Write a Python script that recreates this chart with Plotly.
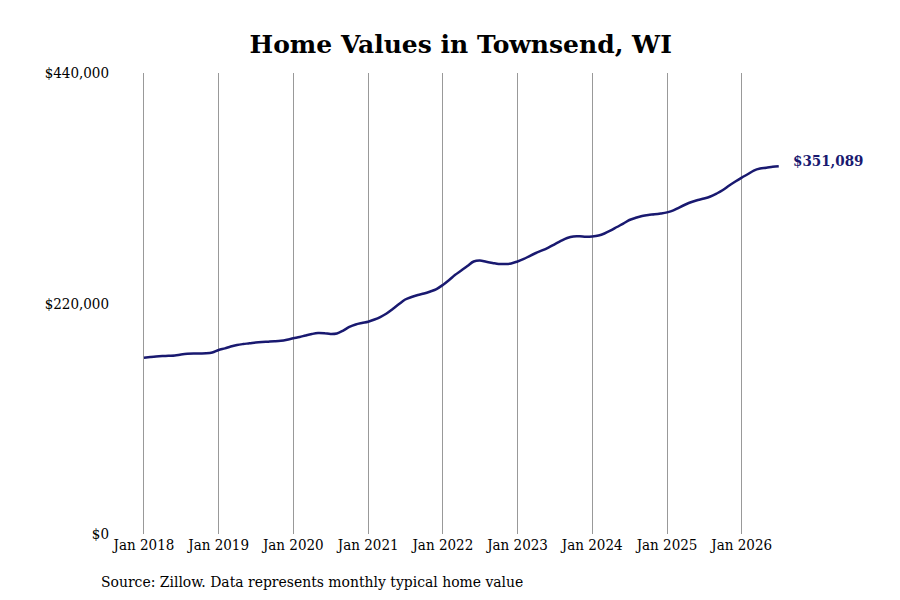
import pandas as pd
import plotly.graph_objects as go

# monthly typical home value, Jan 2018 - Jul 2026
months = pd.date_range("2018-01-01", "2026-07-01", freq="MS")

values = [
    # 2018
    168300, 168900, 169400, 169800, 170100, 170400, 171300, 172000, 172300, 172300, 172400, 173200,
    # 2019
    175600, 177200, 179000, 180400, 181300, 182000, 182800, 183300, 183600, 183900, 184400, 185400,
    # 2020
    186800, 188000, 189500, 190900, 191800, 191600, 190900, 191400, 194200, 197600, 200000, 201400,
    # 2021
    202600, 204700, 207100, 210500, 214800, 219500, 223800, 226200, 228100, 229500, 231500, 233800,
    # 2022
    237700, 242400, 247200, 251500, 255800, 260100, 261000, 259800, 258700, 257700, 257700, 258200,
    # 2023
    260100, 262500, 265300, 268200, 270600, 273400, 276500, 279700, 282500, 284000, 284100, 283700,
    # 2024
    284000, 284900, 286800, 289700, 293000, 296300, 299700, 301800, 303500, 304500, 305100, 305900,
    # 2025
    307000, 308800, 311600, 314500, 316900, 318800, 320200, 322100, 325000, 328300, 332600, 336400,
    # 2026
    340100, 343600, 346900, 348800, 349500, 350500, 351089,
]

tick_dates = pd.date_range("2018-01-01", "2026-01-01", freq="YS")
tick_labels = [d.strftime("Jan %Y") for d in tick_dates]
y_ticks = [0, 220000, 440000]
y_labels = ["$0", "$220,000", "$440,000"]

navy = "#191970"
serif = "DejaVu Serif Condensed, DejaVu Serif, serif"

fig = go.Figure()
fig.add_trace(go.Scatter(
    x=months, y=values, mode="lines",
    line=dict(color=navy, width=2.5, shape="spline"),
    hoverinfo="skip", showlegend=False,
))

# end-of-line value label
fig.add_annotation(
    x=months[-1], y=values[-1], text=f"<b>${values[-1]:,}</b>",
    showarrow=False, xanchor="left", xshift=12, yshift=5,
    font=dict(family=serif, size=15, color=navy),
)

# source note
fig.add_annotation(
    xref="paper", yref="paper", x=-0.016, y=-0.104,
    xanchor="left", yanchor="middle", showarrow=False,
    text="Source: Zillow. Data represents monthly typical home value",
    font=dict(family=serif, size=15.5, color="#000000"),
)

fig.update_layout(
    width=900, height=600,
    margin=dict(l=102, r=118, t=65, b=74),
    paper_bgcolor="white", plot_bgcolor="white",
    title=dict(
        text="<b>Home Values in Townsend, WI</b>",
        x=0.503, xanchor="center", y=0.94, yanchor="middle",
        font=dict(family="DejaVu Serif, serif", size=25, color="#000000"),
    ),
    xaxis=dict(
        range=["2017-07-19", "2026-08-25"],
        tickvals=tick_dates, ticktext=tick_labels,
        showgrid=True, gridcolor="#999999", gridwidth=1,
        showline=False, zeroline=False, ticks="",
        tickfont=dict(family=serif, size=15, color="#000000"),
    ),
    yaxis=dict(
        range=[0, 440000],
        tickvals=y_ticks, ticktext=y_labels,
        showgrid=False, showline=False, zeroline=False, ticks="",
        tickfont=dict(family=serif, size=15, color="#000000"),
    ),
)

fig.write_html("out.html")
